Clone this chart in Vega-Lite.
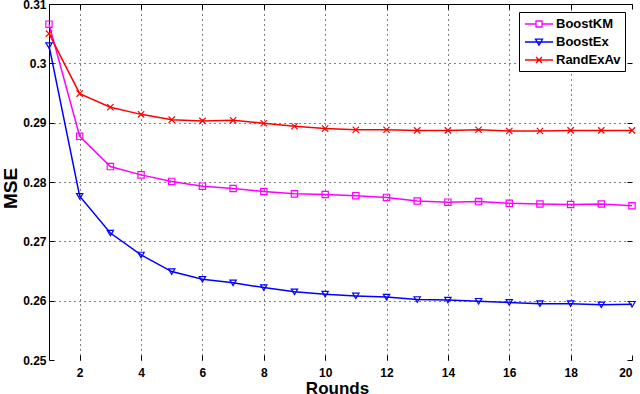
{
  "$schema": "https://vega.github.io/schema/vega-lite/v6.json",
  "width": 583,
  "height": 356,
  "autosize": {"type": "none"},
  "padding": {"left": 49, "top": 4, "right": 8, "bottom": 34},
  "background": "white",
  "config": {
    "view": {"stroke": null},
    "font": "Liberation Sans",
    "axis": {
      "labelFont": "Liberation Sans",
      "labelFontWeight": "bold",
      "labelFontSize": 12,
      "labelColor": "black",
      "titleFont": "Liberation Sans",
      "titleFontWeight": "bold",
      "titleColor": "black",
      "tickColor": "black",
      "domainColor": "black",
      "gridColor": "black",
      "gridDash": [1, 4],
      "gridOpacity": 1,
      "tickSize": -5
    },
    "legend": {
      "title": null, "orient": "none", "legendX": 470, "legendY": 8, "padding": 4,
      "strokeColor": "black", "fillColor": "white", "cornerRadius": 0,
      "symbolSize": 196, "symbolStrokeWidth": 1.3, "symbolFillColor": "transparent", "symbolOffset": 8,
      "labelFont": "Liberation Sans", "labelFontWeight": "bold", "labelFontSize": 13, "labelColor": "black", "labelOffset": 9, "rowPadding": 3
    }
  },
  "data": {
    "values": [
      {"r": 1, "s": "BoostKM", "v": 0.3066}, {"r": 2, "s": "BoostKM", "v": 0.2877}, {"r": 3, "s": "BoostKM", "v": 0.2826}, {"r": 4, "s": "BoostKM", "v": 0.2812}, {"r": 5, "s": "BoostKM", "v": 0.2801},
      {"r": 6, "s": "BoostKM", "v": 0.2793}, {"r": 7, "s": "BoostKM", "v": 0.2789}, {"r": 8, "s": "BoostKM", "v": 0.2784}, {"r": 9, "s": "BoostKM", "v": 0.2780}, {"r": 10, "s": "BoostKM", "v": 0.2779},
      {"r": 11, "s": "BoostKM", "v": 0.2777}, {"r": 12, "s": "BoostKM", "v": 0.2774}, {"r": 13, "s": "BoostKM", "v": 0.2768}, {"r": 14, "s": "BoostKM", "v": 0.2766}, {"r": 15, "s": "BoostKM", "v": 0.2767},
      {"r": 16, "s": "BoostKM", "v": 0.2764}, {"r": 17, "s": "BoostKM", "v": 0.2763}, {"r": 18, "s": "BoostKM", "v": 0.2762}, {"r": 19, "s": "BoostKM", "v": 0.2763}, {"r": 20, "s": "BoostKM", "v": 0.2760},
      {"r": 1, "s": "BoostEx", "v": 0.3030}, {"r": 2, "s": "BoostEx", "v": 0.2776}, {"r": 3, "s": "BoostEx", "v": 0.2714}, {"r": 4, "s": "BoostEx", "v": 0.2677}, {"r": 5, "s": "BoostEx", "v": 0.2649},
      {"r": 6, "s": "BoostEx", "v": 0.2636}, {"r": 7, "s": "BoostEx", "v": 0.2630}, {"r": 8, "s": "BoostEx", "v": 0.2622}, {"r": 9, "s": "BoostEx", "v": 0.2615}, {"r": 10, "s": "BoostEx", "v": 0.2611},
      {"r": 11, "s": "BoostEx", "v": 0.2608}, {"r": 12, "s": "BoostEx", "v": 0.2606}, {"r": 13, "s": "BoostEx", "v": 0.2602}, {"r": 14, "s": "BoostEx", "v": 0.2601}, {"r": 15, "s": "BoostEx", "v": 0.2599},
      {"r": 16, "s": "BoostEx", "v": 0.2597}, {"r": 17, "s": "BoostEx", "v": 0.2595}, {"r": 18, "s": "BoostEx", "v": 0.2595}, {"r": 19, "s": "BoostEx", "v": 0.2593}, {"r": 20, "s": "BoostEx", "v": 0.2594},
      {"r": 1, "s": "RandExAv", "v": 0.3050}, {"r": 2, "s": "RandExAv", "v": 0.2949}, {"r": 3, "s": "RandExAv", "v": 0.2926}, {"r": 4, "s": "RandExAv", "v": 0.2914}, {"r": 5, "s": "RandExAv", "v": 0.2905},
      {"r": 6, "s": "RandExAv", "v": 0.2903}, {"r": 7, "s": "RandExAv", "v": 0.2904}, {"r": 8, "s": "RandExAv", "v": 0.2899}, {"r": 9, "s": "RandExAv", "v": 0.2894}, {"r": 10, "s": "RandExAv", "v": 0.2890},
      {"r": 11, "s": "RandExAv", "v": 0.2888}, {"r": 12, "s": "RandExAv", "v": 0.2888}, {"r": 13, "s": "RandExAv", "v": 0.2887}, {"r": 14, "s": "RandExAv", "v": 0.2887}, {"r": 15, "s": "RandExAv", "v": 0.2888},
      {"r": 16, "s": "RandExAv", "v": 0.2886}, {"r": 17, "s": "RandExAv", "v": 0.2886}, {"r": 18, "s": "RandExAv", "v": 0.2887}, {"r": 19, "s": "RandExAv", "v": 0.2887}, {"r": 20, "s": "RandExAv", "v": 0.2887}
    ]
  },
  "layer": [
    {
      "mark": {"type": "line", "strokeWidth": 1.5},
      "encoding": {
        "x": {"field": "r", "type": "quantitative", "scale": {"domain": [1, 20], "nice": false, "zero": false},
          "axis": {"orient": "top", "labels": false, "grid": false, "domain": true, "ticks": true, "title": null, "values": [2, 4, 6, 8, 10, 12, 14, 16, 18, 20]}},
        "y": {"field": "v", "type": "quantitative", "scale": {"domain": [0.25, 0.31], "nice": false, "zero": false},
          "axis": {"orient": "right", "labels": false, "grid": false, "domain": false, "ticks": true, "title": null, "values": [0.25, 0.26, 0.27, 0.28, 0.29, 0.3, 0.31]}},
        "color": {"field": "s", "type": "nominal", "scale": {"domain": ["BoostKM", "BoostEx", "RandExAv"], "range": ["#ff00ff", "#0000ff", "#ff0000"]}, "legend": null},
        "detail": {"field": "s"}
      }
    },
    {
      "mark": {"type": "point", "filled": false, "size": 40, "strokeWidth": 1.2, "opacity": 1},
      "encoding": {
        "x": {"field": "r", "type": "quantitative",
          "axis": {"orient": "bottom", "domain": false, "grid": true, "values": [2, 4, 6, 8, 10, 12, 14, 16, 18, 20], "labelPadding": 12,
            "gridOpacity": {"condition": {"test": "datum.value >= 20", "value": 0}, "value": 1},
            "title": "Rounds", "titleFontSize": 17, "titleX": 288, "titleY": 33, "titleBaseline": "alphabetic", "titleAlign": "center"}},
        "y": {"field": "v", "type": "quantitative",
          "axis": {"orient": "left", "domain": true, "grid": true, "values": [0.25, 0.26, 0.27, 0.28, 0.29, 0.3, 0.31], "format": "~g", "labelPadding": 8,
            "gridOpacity": {"condition": {"test": "datum.value <= 0.25", "value": 0}, "value": 1},
            "title": "MSE", "titleFontSize": 19, "titleAngle": 270, "titleX": -39, "titleY": 184, "titleBaseline": "middle", "titleAlign": "center"}},
        "color": {"field": "s", "type": "nominal", "legend": null},
        "shape": {"field": "s", "type": "nominal", "scale": {"domain": ["BoostKM", "BoostEx", "RandExAv"], "range": ["square", "triangle-down", "M-1,-1L1,1M-1,1L1,-1"]}, "legend": null}
      }
    },
    {
      "transform": [{"filter": "datum.r > 100"}],
      "mark": {"type": "point", "filled": false, "strokeWidth": 1.3, "opacity": 1},
      "encoding": {
        "x": {"field": "r", "type": "quantitative", "axis": null},
        "y": {"field": "v", "type": "quantitative", "axis": null},
        "color": {"field": "s", "type": "nominal", "legend": {}},
        "shape": {"field": "s", "type": "nominal", "scale": {"domain": ["BoostKM", "BoostEx", "RandExAv"],
          "range": ["M-2,0H-0.43M0.43,0H2M-0.43,-0.43H0.43V0.43H-0.43Z", "M-2,0H2M-0.5,-0.4H0.5L0,0.45Z", "M-2,0H2M-0.43,-0.43L0.43,0.43M-0.43,0.43L0.43,-0.43"]}, "legend": {}}
      }
    }
  ],
  "resolve": {"axis": {"x": "independent", "y": "independent"}, "scale": {"shape": "independent"}, "legend": {"color": "independent", "shape": "independent"}}
}
